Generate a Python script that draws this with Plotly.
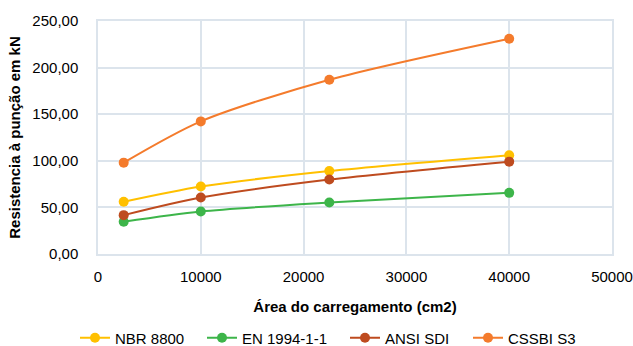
import plotly.graph_objects as go

area = [2500, 10000, 22500, 40000]
nbr = [56.0, 72.4, 89.0, 106.0]
en = [34.6, 45.6, 55.2, 65.6]
ansi = [41.7, 60.6, 79.9, 99.1]
cssbi = [98.0, 142.3, 187.0, 231.0]

series_names = ["NBR 8800", "EN 1994-1-1", "ANSI SDI", "CSSBI S3"]
series_values = [nbr, en, ansi, cssbi]
colors = ["#FFC000", "#3DB54A", "#BE4B1F", "#F47B2C"]

y_ticks = [0, 50, 100, 150, 200, 250]
y_ticktext = ["0,00", "50,00", "100,00", "150,00", "200,00", "250,00"]
x_ticks = [0, 10000, 20000, 30000, 40000, 50000]

legend_ids = ["legend", "legend2", "legend3", "legend4"]
legend_text_px = [116, 243, 386, 509]

fig = go.Figure()
for name, vals, c, lid in zip(series_names, series_values, colors, legend_ids):
    fig.add_trace(go.Scatter(
        x=area, y=vals, name=name, mode="lines+markers",
        line=dict(color=c, width=2, shape="spline", smoothing=0.8),
        marker=dict(color=c, size=10),
        legend=lid,
    ))

font = "Liberation Sans, Arial, sans-serif"
grid = "#DCE4EC"

legend_layout = {}
for lid, px in zip(legend_ids, legend_text_px):
    legend_layout[lid] = dict(
        orientation="h", xref="container", yref="container",
        x=(px - 41) / 633, xanchor="left",
        y=1 - 338 / 346, yanchor="middle",
        font=dict(size=15), itemclick=False, bgcolor="rgba(0,0,0,0)",
    )

fig.update_layout(
    width=633, height=346,
    margin=dict(l=98, r=21, t=21, b=92),
    paper_bgcolor="white", plot_bgcolor="white",
    font=dict(family=font, size=15, color="#000000"),
    showlegend=True,
    xaxis=dict(range=[0, 50000], tickvals=x_ticks, ticktext=[str(v) for v in x_ticks],
               showgrid=True, gridcolor=grid, gridwidth=1.5, automargin=False,
               zeroline=False, showline=True, linecolor=grid, linewidth=1.5, mirror=True,
               ticks="", ticklabelstandoff=8,
               title=dict(text="<b>Área do carregamento (cm2)</b>", font=dict(size=15), standoff=18)),
    yaxis=dict(range=[0, 250], tickvals=y_ticks, ticktext=y_ticktext,
               showgrid=True, gridcolor=grid, gridwidth=1.5, automargin=True,
               zeroline=False, showline=True, linecolor=grid, linewidth=1.5, mirror=True,
               ticks="outside", ticklen=15, tickcolor="rgba(0,0,0,0)",
               title=dict(text="<b>Resistencia à punção em kN</b>", font=dict(size=15), standoff=8)),
    **legend_layout,
)

fig.write_html("out.html", config={"displayModeBar": False},
               post_script="document.body.style.margin='0px';")
